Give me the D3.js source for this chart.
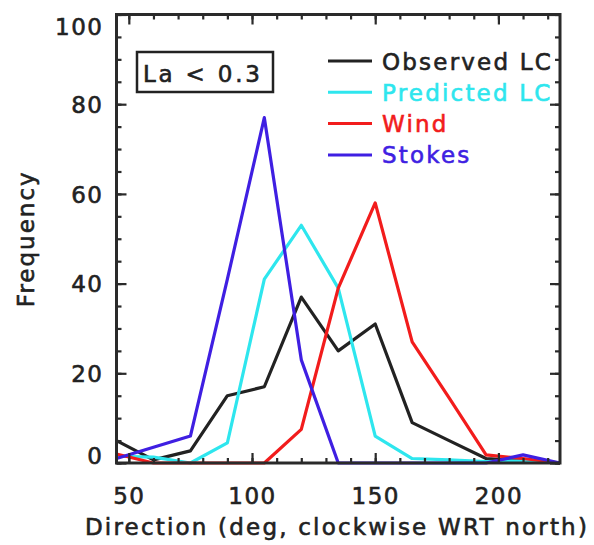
<!DOCTYPE html>
<html>
<head>
<meta charset="utf-8">
<script src="https://cdn.jsdelivr.net/npm/d3@7"></script>
<style>
  body { margin: 0; background: #fff; }
  text { font-family: "DejaVu Sans", sans-serif; fill: #222; stroke-width: 0.6; }
</style>
</head>
<body>
<script>
const w = 594;
const h = 545;

// bin centres (deg) and counts per series
const directions = [45, 60, 75, 90, 105, 120, 135, 150, 165, 180, 195, 210, 225];
const observed  = [5, 0.7, 2.7, 15, 17, 37, 25, 31, 9, 5, 1, 0.5, 0];
const predicted = [1.5, 1.3, 0, 4.5, 41, 53, 39, 6, 1, 0.7, 0.3, 0.5, 0];
const wind      = [2, 0, 0, 0, 0, 7.5, 39, 58, 27, 14.5, 1.8, 1, 0];
const stokes    = [1, 3.5, 6, 41, 77, 23, 0, 0, 0, 0, 0, 1.8, 0];

const seriesNames = ["Observed LC", "Predicted LC", "Wind", "Stokes"];
const seriesColors = ["#222222", "#2ee6ee", "#f21c1c", "#3f1fe2"];

const xMajor = [50, 100, 150, 200];
const xMinor = d3.range(50, 230, 10);
const yMajor = [0, 20, 40, 60, 80, 100];
const yMinor = d3.range(0, 101, 5);

const pLeft = 116.5, pRight = 560, pTop = 14.5, pBottom = 463;

let svg = d3.select("body")
  .append("svg")
  .attr("width", w)
  .attr("height", h);

var x = d3.scaleLinear().domain([45, 225]).range([pLeft, pRight]);
var y = d3.scaleLinear().domain([0, 100]).range([pBottom, pTop]);

// data lines (drawn first so the frame sits on top)
var all = [observed, predicted, wind, stokes];
var line = d3.line()
  .x((d, i) => x(directions[i]))
  .y(d => y(d));

svg.append("g")
  .selectAll("path")
  .data(all)
  .join("path")
  .attr("d", d => line(d))
  .attr("fill", "none")
  .attr("stroke", (d, i) => seriesColors[i])
  .attr("stroke-width", 3.2)
  .attr("stroke-linejoin", "round");

// axes, ticks pointing inward
function styleAxis(g) {
  g.select(".domain").remove();
  g.selectAll("line").attr("stroke", "#2a2a2a").attr("stroke-width", 2.2);
}

svg.append("g").attr("transform", `translate(0,${pBottom})`)
  .call(d3.axisBottom(x).tickValues(xMinor).tickSize(-5).tickFormat(""))
  .call(styleAxis);
var xb = svg.append("g").attr("transform", `translate(0,${pBottom})`)
  .call(d3.axisBottom(x).tickValues(xMajor).tickSize(-10).tickPadding(25))
  .call(styleAxis);
xb.selectAll("text").attr("font-size", 23).attr("letter-spacing", 1.5)
  .attr("fill", "#222").attr("stroke", "#222");

svg.append("g").attr("transform", `translate(0,${pTop})`)
  .call(d3.axisTop(x).tickValues(xMinor).tickSize(-5).tickFormat(""))
  .call(styleAxis);
svg.append("g").attr("transform", `translate(0,${pTop})`)
  .call(d3.axisTop(x).tickValues(xMajor).tickSize(-10).tickFormat(""))
  .call(styleAxis);

svg.append("g").attr("transform", `translate(${pLeft},0)`)
  .call(d3.axisLeft(y).tickValues(yMinor).tickSize(-5).tickFormat(""))
  .call(styleAxis);
var yl = svg.append("g").attr("transform", `translate(${pLeft},0)`)
  .call(d3.axisLeft(y).tickValues(yMajor).tickSize(-10).tickPadding(13))
  .call(styleAxis);
yl.selectAll("text")
  .attr("font-size", 23)
  .attr("letter-spacing", 1.5)
  .attr("fill", "#222")
  .attr("stroke", "#222")
  .attr("y", d => Math.min(Math.max(y(d), 26), 455) - y(d) + 1);

svg.append("g").attr("transform", `translate(${pRight},0)`)
  .call(d3.axisRight(y).tickValues(yMinor).tickSize(-5).tickFormat(""))
  .call(styleAxis);
svg.append("g").attr("transform", `translate(${pRight},0)`)
  .call(d3.axisRight(y).tickValues(yMajor).tickSize(-10).tickFormat(""))
  .call(styleAxis);

// frame
svg.append("rect")
  .attr("x", pLeft).attr("y", pTop)
  .attr("width", pRight - pLeft).attr("height", pBottom - pTop)
  .attr("fill", "none")
  .attr("stroke", "#2a2a2a")
  .attr("stroke-width", 3);

// axis titles
svg.append("text")
  .attr("x", 337)
  .attr("y", 535)
  .attr("text-anchor", "middle")
  .attr("font-size", 23)
  .attr("letter-spacing", 2.2)
  .attr("stroke", "#222")
  .text("Direction (deg, clockwise WRT north)");

svg.append("text")
  .attr("transform", `translate(34,${(pTop + pBottom) / 2}) rotate(-90)`)
  .attr("text-anchor", "middle")
  .attr("font-size", 23)
  .attr("letter-spacing", 2)
  .attr("stroke", "#222")
  .text("Frequency");

// La box
svg.append("rect")
  .attr("x", 137).attr("y", 52)
  .attr("width", 136).attr("height", 40)
  .attr("fill", "#fff")
  .attr("stroke", "#222")
  .attr("stroke-width", 2.5);
svg.append("text")
  .attr("x", 143).attr("y", 82)
  .attr("font-size", 23)
  .attr("letter-spacing", 2.8)
  .attr("stroke", "#222")
  .text("La < 0.3");

// legend
var leg = svg.append("g")
  .selectAll("g")
  .data(seriesNames)
  .join("g")
  .attr("transform", (d, i) => `translate(328,${61 + i * 31.3})`);
leg.append("line")
  .attr("x1", 0).attr("x2", 44)
  .attr("stroke", (d, i) => seriesColors[i])
  .attr("stroke-width", 3);
leg.append("text")
  .attr("x", 54).attr("y", 8.5)
  .attr("font-size", 23)
  .attr("letter-spacing", 2.2)
  .style("fill", (d, i) => seriesColors[i])
  .style("stroke", (d, i) => seriesColors[i])
  .text(d => d);
</script>
</body>
</html>
